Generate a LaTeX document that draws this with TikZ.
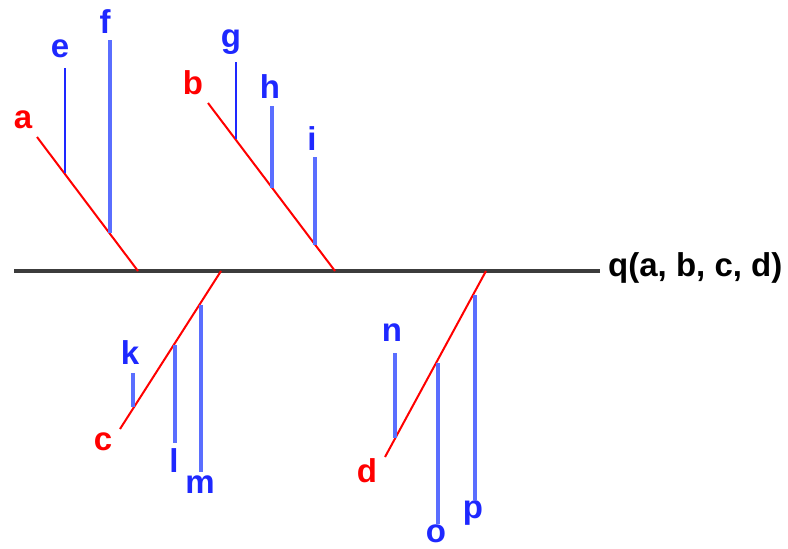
\documentclass[tikz,border=0pt]{standalone}
\usepackage{fontspec}
\setmainfont{Liberation Sans}
\definecolor{lblred}{RGB}{255,0,0}
\definecolor{lblblue}{RGB}{30,40,255}
\definecolor{stemblue}{RGB}{90,110,255}
\definecolor{axisgray}{RGB}{60,60,60}
\begin{document}
\begin{tikzpicture}[x=1pt,y=-1pt,
  lbl/.style={inner sep=0pt,anchor=base,font=\fontsize{33}{36}\selectfont\bfseries},
  redlbl/.style={lbl,text=lblred},
  bluelbl/.style={lbl,text=lblblue},
  diag/.style={draw=lblred,line width=2pt},
  stem/.style={draw=stemblue,line width=3.2pt},
  axis/.style={draw=axisgray,line width=3.5pt}]
\useasboundingbox (0,0) rectangle (788,549);
% axis
\coordinate (L) at (14,271);
\coordinate (R) at (600,271);
\node[lbl,anchor=base west,text=black] (q) at (608,276) {q(a, b, c, d)};
\draw[axis] (L) -- (R);
% diagonals
\coordinate (a0) at (37,137);  \coordinate (a1) at (138,271);
\coordinate (b0) at (208,103); \coordinate (b1) at (335,271);
\coordinate (c0) at (120,429); \coordinate (c1) at (221,271);
\coordinate (d0) at (385,457); \coordinate (d1) at (486,271);
\draw[diag] (a0) -- (a1);
\draw[diag] (b0) -- (b1);
\draw[diag] (c0) -- (c1);
\draw[diag] (d0) -- (d1);
% labels
\node[redlbl] (la) at (23,128) {a};
\node[redlbl] (lb) at (193,94) {b};
\node[redlbl] (lc) at (103,450) {c};
\node[redlbl] (ld) at (367,482) {d};
\node[bluelbl] (le) at (60,57) {e};
\node[bluelbl] (lf) at (105,33) {f};
\node[bluelbl] (lg) at (231,47) {g};
\node[bluelbl] (lh) at (270,98) {h};
\node[bluelbl] (li) at (312,150) {i};
\node[bluelbl] (lk) at (130,364) {k};
\node[bluelbl] (ll) at (174,472) {l};
\node[bluelbl] (lm) at (200,493) {m};
\node[bluelbl] (ln) at (392,341) {n};
\node[bluelbl] (lo) at (436,542) {o};
\node[bluelbl] (lp) at (473,518) {p};
% stems
\coordinate (e0) at (65,68);   \coordinate (e1) at (65,173);
\coordinate (f0) at (110,40);  \coordinate (f1) at (110,233);
\coordinate (g0) at (236,62);  \coordinate (g1) at (236,139);
\coordinate (h0) at (272,106); \coordinate (h1) at (272,188);
\coordinate (i0) at (315,157); \coordinate (i1) at (315,245);
\coordinate (k0) at (133,373); \coordinate (k1) at (133,407);
\coordinate (l0) at (175,345); \coordinate (l1) at (175,443);
\coordinate (m0) at (201,305); \coordinate (m1) at (201,472);
\coordinate (n0) at (395,353); \coordinate (n1) at (395,438);
\coordinate (o0) at (438,363); \coordinate (o1) at (438,524);
\coordinate (p0) at (475,295); \coordinate (p1) at (475,500);
\draw[stem,draw=lblblue,line width=2.4pt] (e0) -- (e1);
\draw[stem] (f0) -- (f1);
\draw[stem,draw=lblblue,line width=2.4pt] (g0) -- (g1);
\draw[stem] (h0) -- (h1);
\draw[stem] (i0) -- (i1);
\draw[stem] (k0) -- (k1);
\draw[stem] (l0) -- (l1);
\draw[stem] (m0) -- (m1);
\draw[stem] (n0) -- (n1);
\draw[stem] (o0) -- (o1);
\draw[stem] (p0) -- (p1);
\end{tikzpicture}
\end{document}
